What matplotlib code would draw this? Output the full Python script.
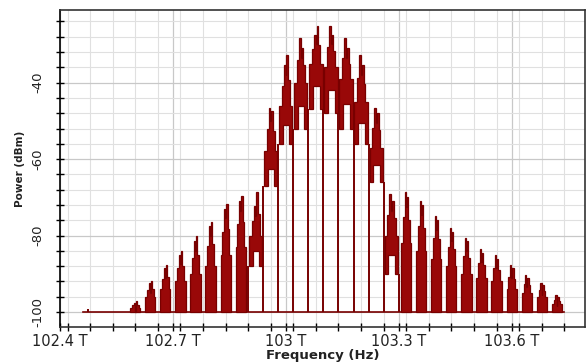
import matplotlib
matplotlib.use("Agg")
import matplotlib.pyplot as plt
from matplotlib.ticker import FixedLocator, MultipleLocator

# ---------------- data ----------------
# comb line centre frequencies (THz)
line_freq_thz = [102.60, 102.64, 102.68, 102.72, 102.76, 102.80, 102.84, 102.88,
                 102.92, 102.96, 103.00, 103.04, 103.08, 103.12, 103.16, 103.20,
                 103.24, 103.28, 103.32, 103.36, 103.40, 103.44, 103.48, 103.52,
                 103.56, 103.60, 103.64, 103.68, 103.72]
# height of the left / right spike at the top of each line (dBm)
peak_left_dbm = [-97.5, -92.5, -88.5, -85.0, -81.5, -77.5, -73.0, -71.0,
                 -72.3, -46.5, -35.5, -28.3, -27.5, -25.1, -28.3, -32.7,
                 -46.5, -69.2, -68.5, -70.9, -75.0, -78.0, -80.5, -83.4,
                 -85.0, -87.8, -90.3, -92.4, -95.5]
peak_right_dbm = [-97.1, -91.9, -87.7, -84.1, -80.2, -76.5, -71.8, -69.7,
                  -68.7, -47.5, -32.7, -31.0, -25.1, -27.5, -31.0, -35.5,
                  -48.0, -71.0, -70.0, -72.0, -76.0, -79.0, -81.5, -84.5,
                  -86.0, -88.5, -91.0, -93.0, -96.0]
# shoulder level of each line (dBm)
shoulder_dbm = [-99.0, -96.0, -94.0, -92.0, -90.0, -88.0, -85.0, -83.0,
                -80.0, -58.0, -46.0, -40.0, -35.0, -36.0, -39.0, -45.0,
                -57.0, -80.0, -82.0, -84.0, -86.0, -88.0, -90.0, -91.0,
                -92.0, -94.0, -95.0, -96.0, -98.0]
# lowest level reached by the dense trace of each line (dBm)
bottom_dbm = [-100, -100, -100, -100, -100, -100, -100, -100,
              -88, -67, -56, -52, -47, -48, -52, -56,
              -66, -90, -100, -100, -100, -100, -100, -100,
              -100, -100, -100, -100, -100]
floor_dbm = -100.0
floor_start_thz = 102.46
floor_end_thz = 103.74
blip_freq_thz = 102.475
blip_dbm = -99.3

x_tick_values = [102.4, 102.7, 103.0, 103.3, 103.6]
x_tick_labels = ["102.4 T", "102.7 T", "103 T", "103.3 T", "103.6 T"]
y_tick_values = [-100, -80, -60, -40]
y_tick_labels = ["-100", "-80", "-60", "-40"]
x_label = "Frequency (Hz)"
y_label = "Power (dBm)"

# ---------------- drawing ----------------
TRACE_FILL = "#990808"
TRACE_EDGE = "#780000"

fig = plt.figure(figsize=(5.87, 3.63), dpi=100)
fig.patch.set_facecolor("white")
ax = fig.add_axes([60 / 587, 36 / 363, 525 / 587, 317 / 363])
ax.set_xlim(102.4, 103.795)
ax.set_ylim(-103.9, -21.0)

# grid
ax.xaxis.set_major_locator(FixedLocator(x_tick_values))
ax.xaxis.set_minor_locator(MultipleLocator(0.06))
ax.yaxis.set_major_locator(FixedLocator(y_tick_values))
ax.yaxis.set_minor_locator(MultipleLocator(4))
ax.grid(which="minor", color="#e0e0e0", linewidth=0.8)
ax.grid(which="major", color="#c8c8c8", linewidth=0.9)
ax.set_axisbelow(True)

# floor trace
ax.plot([floor_start_thz, floor_end_thz], [floor_dbm, floor_dbm],
        color=TRACE_EDGE, linewidth=1.2, zorder=3)
ax.vlines(blip_freq_thz, floor_dbm, blip_dbm, color=TRACE_EDGE, linewidth=1.4, zorder=3)


def lump(c, w, pl, pr, s, b):
    ml = (s + pl) / 2.0
    mr = (s + pr) / 2.0
    d = min(pl, pr) - 2.5
    xs = [c - w, c - w, c - 0.62 * w, c - 0.62 * w, c - 0.32 * w, c - 0.32 * w,
          c - 0.04 * w, c - 0.04 * w, c + 0.1 * w, c + 0.1 * w, c + 0.38 * w,
          c + 0.38 * w, c + 0.66 * w, c + 0.66 * w, c + w, c + w]
    ys = [b, s, s, ml, ml, pl, pl, d, d, pr, pr, mr, mr, s, s, b]
    if b > -99:
        # dense trace leaves an arch-shaped white gap under the line
        mid = (b + s) / 2.0
        xs += [c + 0.55 * w, c + 0.55 * w, c - 0.45 * w, c - 0.45 * w]
        ys += [b, mid, mid, b]
    return xs, ys


n = len(line_freq_thz)
for i in range(n):
    c = line_freq_thz[i]
    b = bottom_dbm[i]
    w = 0.0175 if b > -99 else 0.0135
    xs, ys = lump(c, w, peak_left_dbm[i], peak_right_dbm[i], shoulder_dbm[i], b)
    ax.fill(xs, ys, facecolor=TRACE_FILL, edgecolor=TRACE_EDGE,
            linewidth=0.9, zorder=4)

# deep notches between neighbouring lines
for i in range(n - 1):
    c0, c1 = line_freq_thz[i], line_freq_thz[i + 1]
    top = max(bottom_dbm[i], bottom_dbm[i + 1])
    if top > -99:
        ax.vlines((c0 + c1) / 2.0, floor_dbm, top, color=TRACE_EDGE,
                  linewidth=1.4, zorder=3)

# ticks and labels
ax.set_xticklabels(x_tick_labels, fontsize=10.5, color="#222222")
ax.set_yticklabels(y_tick_labels, fontsize=9.5, rotation=90, va="center",
                   color="#222222")
ax.tick_params(axis="both", which="both", direction="inout", length=6,
               width=1.0, color="black")
ax.tick_params(axis="x", which="major", pad=2)
ax.tick_params(axis="y", which="major", pad=8)
ax.set_xlabel(x_label, fontsize=9.5, fontweight="bold", color="#222222",
              labelpad=0)
ax.set_ylabel(y_label, fontsize=7.5, fontweight="bold", color="#222222",
              labelpad=5)

# spines
ax.spines["left"].set_linewidth(1.2)
ax.spines["left"].set_color("black")
for side in ("top", "right", "bottom"):
    ax.spines[side].set_linestyle((0, (1, 1)))
    ax.spines[side].set_linewidth(1.2)
    ax.spines[side].set_color("#333333")

fig.savefig("out.png", dpi=100, facecolor="white")
